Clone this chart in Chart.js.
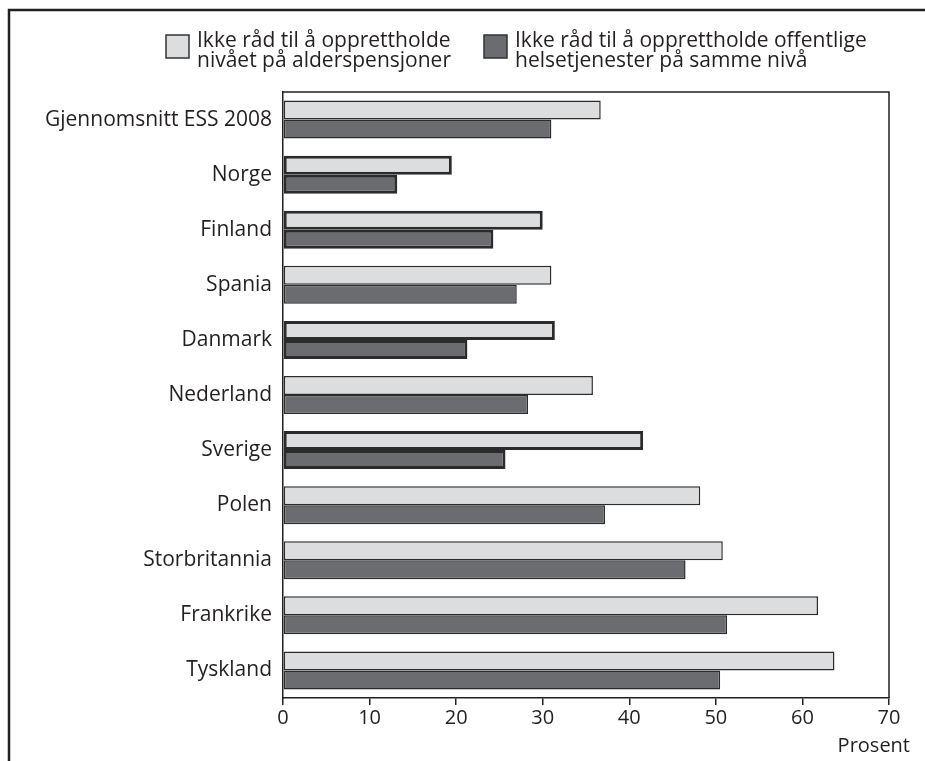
<!DOCTYPE html>
<html>
<head>
<meta charset="utf-8">
<script src="https://cdn.jsdelivr.net/npm/chart.js@4.4.1/dist/chart.umd.min.js"></script>
<style>
  html, body { margin: 0; padding: 0; background: #fff; }
</style>
</head>
<body>
<canvas id="myChart" width="925" height="761"></canvas>
<script>
const countries = ['Gjennomsnitt ESS 2008', 'Norge', 'Finland', 'Spania', 'Danmark', 'Nederland',
    'Sverige', 'Polen', 'Storbritannia', 'Frankrike', 'Tyskland'];
const pensions = [36.7, 19.5, 30.0, 31.0, 31.4, 35.8, 41.6, 48.2, 50.8, 61.8, 63.7];
const health = [31.0, 13.2, 24.3, 27.0, 21.3, 28.3, 25.7, 37.2, 46.5, 51.3, 50.5];
const nordic = ['Norge', 'Finland', 'Danmark', 'Sverige'];
const seriesNames = [
    ['Ikke råd til å opprettholde', 'nivået på alderspensjoner'],
    ['Ikke råd til å opprettholde offentlige', 'helsetjenester på samme nivå']
];
const xMin = 0, xMax = 70, xStep = 10;
const axisTitle = 'Prosent';

const ink = '#231f20';
const fontFamily = '"Open Sans", "Noto Sans", sans-serif';
const colors = ['#dcdddf', '#6b6c70'];

const edgeWidth = ctx => nordic.includes(countries[ctx.dataIndex]) ? 3 : 1.5;

const framePlugin = {
    id: 'frame',
    afterDraw(chart) {
        const c = chart.ctx;
        const area = chart.chartArea;
        c.save();
        // outer figure frame
        c.strokeStyle = ink;
        c.lineWidth = 2.5;
        c.beginPath();
        c.moveTo(9, 761);
        c.lineTo(9, 10);
        c.lineTo(925, 10);
        c.stroke();
        // top + right edges of the plot box
        c.lineWidth = 1.5;
        c.beginPath();
        c.moveTo(area.left, area.top);
        c.lineTo(area.right, area.top);
        c.lineTo(area.right, area.bottom);
        c.stroke();
        // legend
        const legendX = [166, 484];
        c.font = '21px ' + fontFamily;
        c.textBaseline = 'alphabetic';
        c.textAlign = 'left';
        seriesNames.forEach((lines, i) => {
            c.fillStyle = colors[i];
            c.fillRect(legendX[i], 35, 23, 23);
            c.strokeStyle = '#333';
            c.lineWidth = 1.5;
            c.strokeRect(legendX[i], 35, 23, 23);
            c.fillStyle = ink;
            lines.forEach((t, j) => c.fillText(t, legendX[i] + 31, 47 + j * 20));
        });
        // axis title
        c.font = '20px ' + fontFamily;
        c.textAlign = 'right';
        c.fillText(axisTitle, 910, 752);
        c.restore();
    }
};

const ctx = document.getElementById('myChart').getContext('2d');
const chart = new Chart(ctx, {
    type: 'bar',
    data: {
        labels: countries,
        datasets: [{
            label: seriesNames[0].join(' '),
            data: pensions,
            backgroundColor: colors[0],
            borderColor: '#2b2b2b',
            borderWidth: edgeWidth,
            borderSkipped: false,
            categoryPercentage: 0.69,
            barPercentage: 1
        }, {
            label: seriesNames[1].join(' '),
            data: health,
            backgroundColor: colors[1],
            borderColor: '#2b2b2b',
            borderWidth: edgeWidth,
            borderSkipped: false,
            categoryPercentage: 0.69,
            barPercentage: 1
        }]
    },
    options: {
        indexAxis: 'y',
        responsive: false,
        animation: false,
        layout: { padding: { top: 92, right: 36, left: 0, bottom: 0 } },
        plugins: {
            legend: { display: false },
            tooltip: { enabled: false }
        },
        scales: {
            x: {
                min: xMin,
                max: xMax,
                ticks: { stepSize: xStep, color: ink, font: { family: fontFamily, size: 20 }, padding: 1 },
                grid: { drawOnChartArea: false, drawTicks: true, tickLength: 7, color: ink, lineWidth: 1.5 },
                border: { color: ink, width: 1.5 },
                afterFit: s => { s.height = 63; }
            },
            y: {
                ticks: { color: ink, font: { family: fontFamily, size: 21 }, padding: 3 },
                grid: { display: false },
                border: { display: true, color: ink, width: 1.5 },
                afterFit: s => { s.width = 283; }
            }
        }
    },
    plugins: [framePlugin]
});
</script>
</body>
</html>
